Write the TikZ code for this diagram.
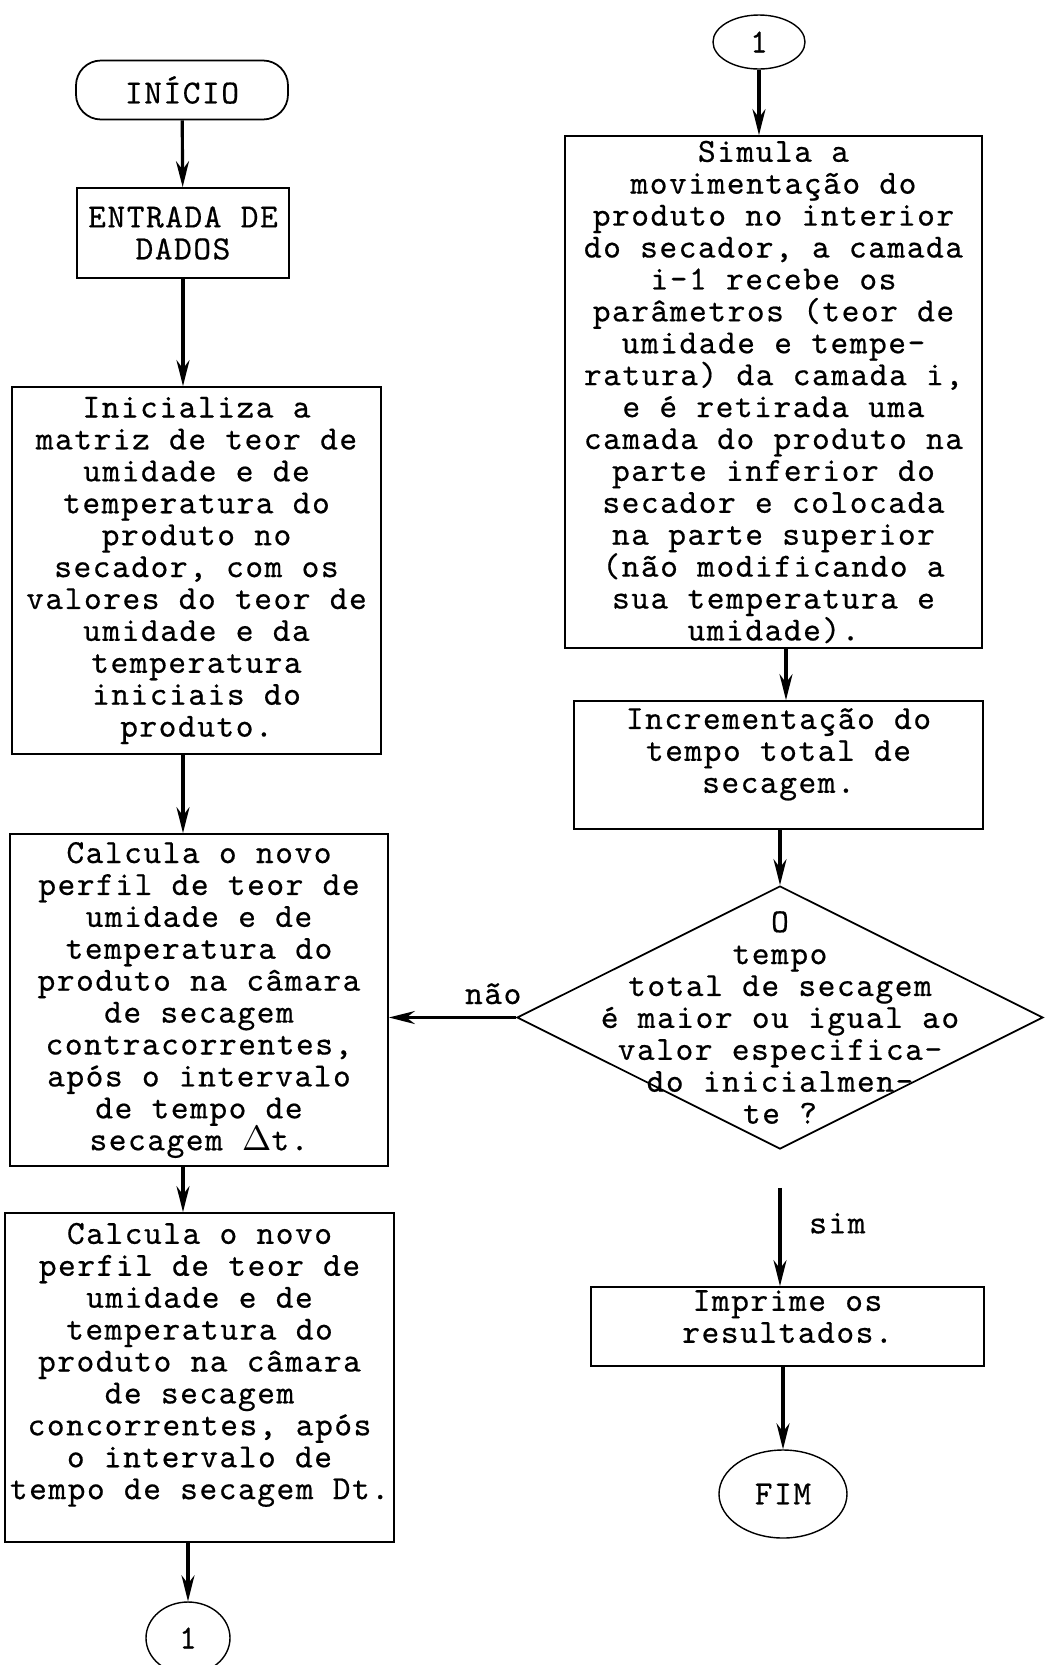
\documentclass[tikz,border=0pt]{standalone}
\usepackage{fontspec}
\setmonofont{Latin Modern Mono}[LetterSpace=4.6,FakeBold=0.5]
\usetikzlibrary{shapes.geometric,arrows.meta}

\begin{document}
\begin{tikzpicture}[scale=1.0,
        font=\ttfamily\fontsize{9.6}{9.08}\selectfont,
        >={Stealth[length=0.26cm,width=0.13cm]},
        flow/.style={->,line width=0.9pt},
        caixa/.style={draw,line width=0.5pt,align=center,inner sep=0pt},
        conector/.style={draw,ellipse,line width=0.4pt,inner sep=0pt},
        decisao/.style={draw,diamond,line width=0.5pt,inner sep=0pt}]
        \useasboundingbox (0,0) rectangle (10.53,-16.65);
        \node[caixa,rounded corners=0.25cm,minimum width=2.12cm,minimum height=0.59cm] (inicio) at (1.82,-0.90) {INÍCIO};
        \node[caixa,minimum width=2.12cm,minimum height=0.90cm] (entrada) at (1.83,-2.33) {ENTRADA DE\\DADOS};
        \node[caixa,minimum width=3.69cm,minimum height=3.67cm] (init) at (1.965,-5.705) {Inicializa a\\matriz de teor de\\umidade e de\\temperatura do\\produto no\\secador, com os\\valores do teor de\\umidade e da\\temperatura\\iniciais do\\produto.};
        \node[caixa,minimum width=3.78cm,minimum height=3.32cm] (calcA) at (1.99,-10.00) {Calcula o novo\\perfil de teor de\\umidade e de\\temperatura do\\produto na câmara\\de secagem\\contracorrentes,\\após o intervalo\\de tempo de\\secagem $\Delta$t.};
        \node[caixa,minimum width=3.89cm,minimum height=3.29cm,text depth=0.33cm] (calcB) at (1.995,-13.775) {Calcula o novo\\perfil de teor de\\umidade e de\\temperatura do\\produto na câmara\\de secagem\\concorrentes, após\\o intervalo de\\tempo de secagem Dt.};
        \node[conector,minimum width=0.84cm,minimum height=0.72cm] (conA) at (1.88,-16.38) {1};
        \node[conector,minimum width=0.92cm,minimum height=0.54cm] (conB) at (7.59,-0.42) {1};
        \node[caixa,minimum width=4.17cm,minimum height=5.12cm] (simula) at (7.735,-3.92) {Simula a\\movimentação do\\produto no interior\\do secador, a camada\\i-1 recebe os\\parâmetros (teor de\\umidade e tempe-\\ratura) da camada i,\\e é retirada uma\\camada do produto na\\parte inferior do\\secador e colocada\\na parte superior\\(não modificando a\\sua temperatura e\\umidade).};
        \node[caixa,minimum width=4.09cm,minimum height=1.28cm,text depth=0.29cm] (incr) at (7.785,-7.65) {Incrementação do\\tempo total de\\secagem.};
        \node[decisao,minimum width=5.26cm,minimum height=2.63cm] (dec) at (7.80,-10.175) {};
        \node[align=center] (pergunta) at (dec.center) {O\\tempo\\total de secagem\\é maior ou igual ao\\valor especifica-\\do inicialmen-\\te ?};
        \node[caixa,minimum width=3.93cm,minimum height=0.79cm,text depth=0.20cm] (imprime) at (7.875,-13.265) {Imprime os\\resultados.};
        \node[conector,minimum width=1.28cm,minimum height=0.88cm] (fim) at (7.83,-14.94) {FIM};
        \draw[flow] (inicio) -- (entrada);
        \draw[flow] (entrada) -- (entrada |- init.north);
        \draw[flow] (entrada |- init.south) -- (entrada |- calcA.north);
        \draw[flow] (entrada |- calcA.south) -- (entrada |- calcB.north);
        \draw[flow] (calcB.south -| conA) -- (conA);
        \draw[flow] (conB) -- (conB |- simula.north);
        \draw[flow] ([xshift=0.075cm]incr.north |- simula.south) -- ([xshift=0.075cm]incr.north);
        \draw[flow] (incr.south -| dec.north) -- (dec.north);
        \draw[flow] (dec.west) -- node[above,pos=0.18] (nao) {não} (dec.west -| calcA.east);
        \draw[flow] ([yshift=-0.38cm]dec.south) -- node[right,pos=0.36,xshift=0.16cm] (sim) {sim} (dec.south |- imprime.north);
        \draw[flow] (imprime.south -| fim.north) -- (fim);
    \end{tikzpicture}
\end{document}
